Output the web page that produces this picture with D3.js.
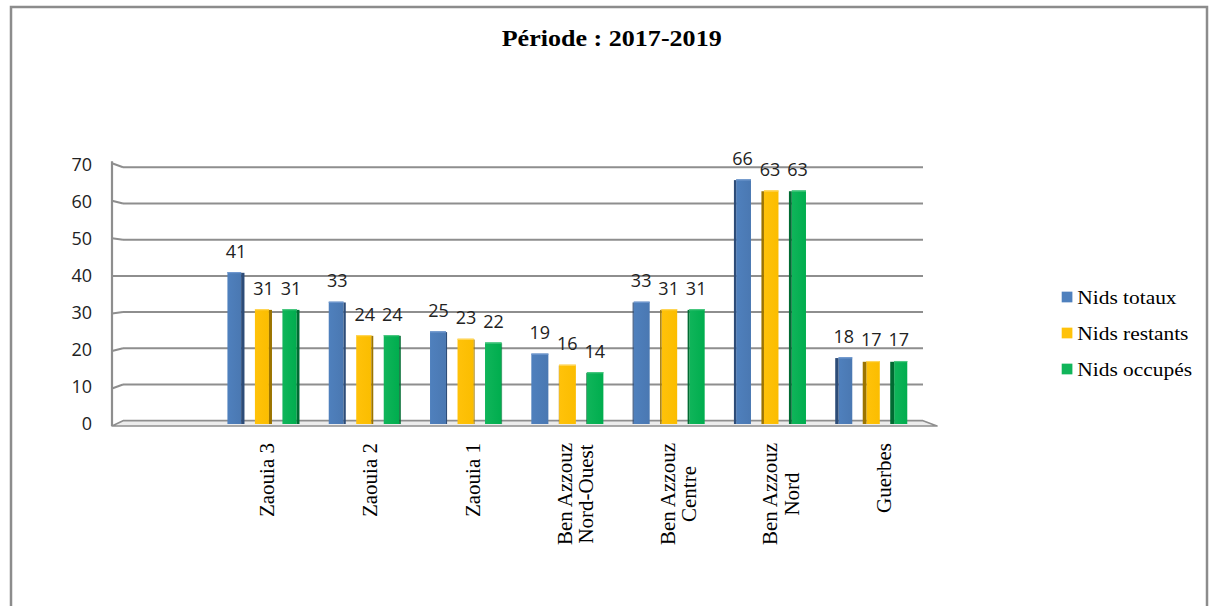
<!DOCTYPE html>
<html>
<head>
<meta charset="utf-8">
<script src="https://cdn.jsdelivr.net/npm/d3@7"></script>
<style>
  html, body { margin: 0; padding: 0; background: #ffffff; }
  svg { display: block; }
</style>
</head>
<body>
<svg id="chart" width="1211" height="606"></svg>
<script>
// ---- Data ----
const categories = ["Zaouia 3", "Zaouia 2", "Zaouia 1", "Ben Azzouz Nord-Ouest", "Ben Azzouz Centre", "Ben Azzouz Nord", "Guerbes"];
const categoryLines = [["Zaouia 3"], ["Zaouia 2"], ["Zaouia 1"], ["Ben Azzouz", "Nord-Ouest"], ["Ben Azzouz", "Centre"], ["Ben Azzouz", "Nord"], ["Guerbes"]];
const seriesNames = ["Nids totaux", "Nids restants", "Nids occupés"];
const nidsTotaux = [41, 33, 25, 19, 33, 66, 18];
const nidsRestants = [31, 24, 23, 16, 31, 63, 17];
const nidsOccupes = [31, 24, 22, 14, 31, 63, 17];
const yTicks = [0, 10, 20, 30, 40, 50, 60, 70];
const titleText = "Période : 2017-2019";

const seriesValues = [nidsTotaux, nidsRestants, nidsOccupes];

// ---- Styles ----
const palette = [
  { face: ["#4f80bd", "#4a78b2"], side: "#2d4c78", top: "#7199cf" },
  { face: ["#ffc20a", "#fbbd00"], side: "#9c7400", top: "#ffd65a" },
  { face: ["#10b55a", "#00ad4e"], side: "#006b32", top: "#4cc882" }
];
const gridColor = "#8e8e8e";
const serif = "'Liberation Serif', 'Times New Roman', serif";
const sans = "'Open Sans', 'Noto Sans', sans-serif";

const svg = d3.select("#chart");

// gradients for bar faces
const defs = svg.append("defs");
palette.forEach((p, i) => {
  const g = defs.append("linearGradient").attr("id", "face" + i)
    .attr("x1", "0").attr("x2", "1").attr("y1", "0").attr("y2", "0");
  g.append("stop").attr("offset", "0").attr("stop-color", p.face[0]);
  g.append("stop").attr("offset", "1").attr("stop-color", p.face[1]);
});

// ---- Outer frame ----
svg.append("rect")
  .attr("x", 11).attr("y", 7).attr("width", 1196).attr("height", 640)
  .attr("fill", "none").attr("stroke", "#8c8c8c").attr("stroke-width", 2.5);

// ---- Scales ----
// front plane (axis line, tick labels), back wall (gridlines), bar plane
const yFront = d3.scaleLinear().domain([0, 70]).range([426, 163.3]);
const yBack = d3.scaleLinear().domain([0, 70]).range([420.7, 167.3]);
const yBar = d3.scaleLinear().domain([0, 70]).range([424, 164.5]);

const x0 = d3.scaleBand().domain(categories).range([212.8, 921.9]).padding(0);
const x1 = d3.scaleBand().domain(seriesNames).range([0, 82.5]).paddingInner(0.38).paddingOuter(0.19);
const xLabel = d3.scaleBand().domain(categories).range([215.6, 935]).padding(0);

const wallFrontX = 112, wallBackX = 123, wallRightX = 923, floorFrontRight = 937;

// ---- Back wall gridlines and left wall ----
const grid = svg.append("g");
grid.selectAll("line.grid").data(yTicks).join("line")
  .attr("class", "grid")
  .attr("x1", wallBackX).attr("x2", wallRightX)
  .attr("y1", d => yBack(d)).attr("y2", d => yBack(d))
  .attr("stroke", gridColor).attr("stroke-width", 2);
grid.selectAll("line.side").data(yTicks.filter(d => d > 0)).join("line")
  .attr("class", "side")
  .attr("x1", wallFrontX).attr("x2", wallBackX)
  .attr("y1", d => yFront(d)).attr("y2", d => yBack(d))
  .attr("stroke", gridColor).attr("stroke-width", 2);
grid.append("line")
  .attr("x1", wallFrontX).attr("x2", wallFrontX)
  .attr("y1", yFront(70) - 2).attr("y2", yFront(0))
  .attr("stroke", gridColor).attr("stroke-width", 2.2);

// ---- Floor ----
svg.append("polygon")
  .attr("points", [
    [wallFrontX, yFront(0)], [wallBackX, yBack(0)], [wallRightX, yBack(0)], [floorFrontRight, yFront(0)]
  ].map(p => p.join(",")).join(" "))
  .attr("fill", "#ececec").attr("stroke", gridColor).attr("stroke-width", 1.6)
  .attr("stroke-linejoin", "round");

// ---- Y tick labels ----
svg.append("g").selectAll("text").data(yTicks).join("text")
  .attr("x", 92).attr("y", d => yBar(d)).attr("dy", "0.36em")
  .attr("text-anchor", "end")
  .attr("font-family", sans).attr("font-size", 18).attr("fill", "#222")
  .text(d => d);

// ---- Bars ----
const vanishX = 540, depthK = 0.011;
const barData = [];
categories.forEach((c, ci) => {
  seriesNames.forEach((s, si) => {
    barData.push({ cat: c, series: s, si: si, value: seriesValues[si][ci] });
  });
});

const bars = svg.append("g").selectAll("g.bar").data(barData).join("g").attr("class", "bar");
bars.each(function (d) {
  const g = d3.select(this);
  const x = x0(d.cat) + x0.bandwidth() / 2 - 41.25 + x1(d.series);
  const w = x1.bandwidth();
  const cx = x + w / 2;
  const top = yBar(d.value), bottom = yBar(0);
  const s = Math.min(Math.abs(cx - vanishX) * depthK, 4);
  const p = palette[d.si];
  let faceX, sideX;
  if (cx < vanishX) { faceX = x; sideX = x + w - s; }
  else { sideX = x; faceX = x + s; }
  g.append("rect").attr("x", faceX).attr("y", top).attr("width", w - s).attr("height", bottom - top)
    .attr("fill", "url(#face" + d.si + ")");
  g.append("rect").attr("x", sideX).attr("y", top + 0.8).attr("width", s).attr("height", bottom - top - 0.8)
    .attr("fill", p.side);
  g.append("rect").attr("x", faceX).attr("y", top).attr("width", w - s).attr("height", 1.2)
    .attr("fill", p.top);
});

// ---- Value labels ----
svg.append("g").selectAll("text").data(barData).join("text")
  .attr("x", d => x0(d.cat) + x0.bandwidth() / 2 - 41.25 + x1(d.series) + x1.bandwidth() / 2)
  .attr("y", d => yBar(d.value) - 14.5)
  .attr("text-anchor", "middle")
  .attr("font-family", sans).attr("font-size", 18).attr("fill", "#222")
  .text(d => d.value);

// ---- Category labels (rotated) ----
const labelTop = 443, lineGap = 21.6;
const catG = svg.append("g");
categories.forEach((c, ci) => {
  const lines = categoryLines[ci];
  const cxL = xLabel(c) + xLabel.bandwidth() / 2;
  const t = catG.append("text")
    .attr("font-family", serif).attr("font-size", 21).attr("fill", "#000")
    .attr("text-anchor", "middle");
  const spans = lines.map((ln, li) => t.append("tspan").text(ln));
  // longest line sets the block length; lines are centred on each other
  const maxLen = d3.max(spans, sp => sp.node().getComputedTextLength());
  const n = lines.length;
  spans.forEach((sp, li) => {
    const off = (li - (n - 1) / 2) * lineGap;
    sp.attr("x", -maxLen / 2).attr("y", off).attr("dy", "0.35em");
  });
  t.attr("transform", `translate(${cxL},${labelTop}) rotate(-90)`);
});

// ---- Title ----
svg.append("text")
  .attr("transform", "translate(611.7,46) scale(1.086,1)")
  .attr("text-anchor", "middle")
  .attr("font-family", serif).attr("font-weight", "bold").attr("font-size", 24)
  .attr("fill", "#000")
  .text(titleText);

// ---- Legend ----
const legend = svg.append("g");
const legendY = [297, 333, 369];
seriesNames.forEach((s, i) => {
  legend.append("rect")
    .attr("x", 1061.7).attr("y", legendY[i] - 5.35).attr("width", 10.7).attr("height", 10.7)
    .attr("fill", palette[i].face[0]);
  legend.append("text")
    .attr("transform", `translate(1077.3,${legendY[i] + 7}) scale(1.19,1)`)
    .attr("font-family", serif).attr("font-size", 18).attr("fill", "#000")
    .text(s);
});
</script>
</body>
</html>
